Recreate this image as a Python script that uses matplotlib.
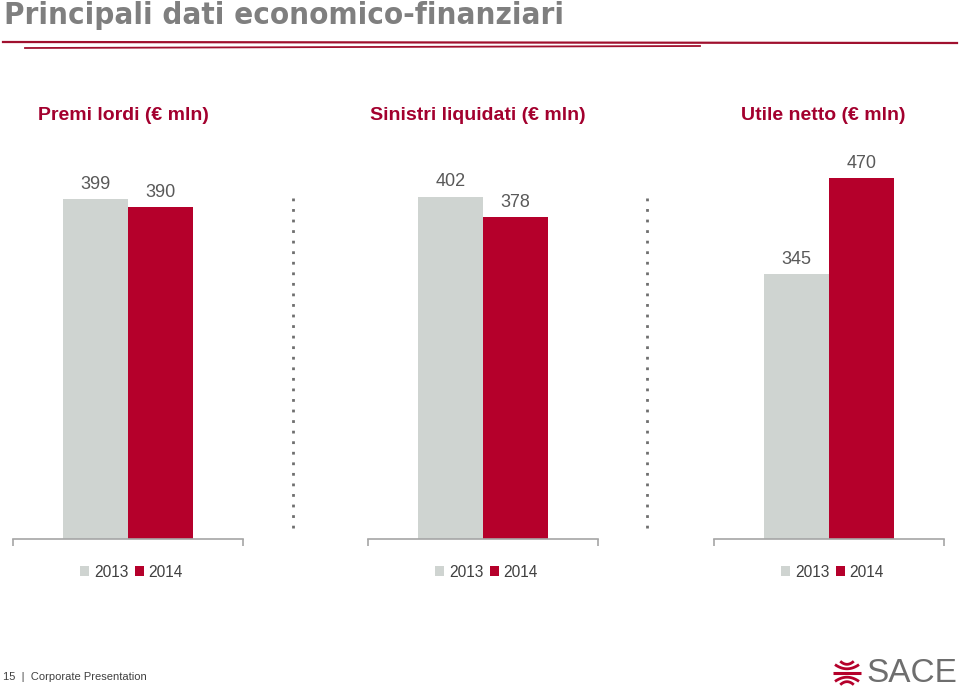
import numpy as np
import matplotlib.pyplot as plt
from matplotlib.lines import Line2D

plt.rcParams['font.family'] = ['Liberation Sans', 'DejaVu Sans']

YEARS = ["2013", "2014"]
PANEL_TITLES = ["Premi lordi (€ mln)", "Sinistri liquidati (€ mln)", "Utile netto (€ mln)"]
PREMI = [399, 390]
SINISTRI = [402, 378]
UTILE = [345, 470]
YMAX = [456.6, 456.6, 506.5]

GREY = '#CFD4D1'
RED = '#B5002B'
TITLE_RED = '#A3002E'
TEXT = '#595959'

W, H = 960, 691
fig = plt.figure(figsize=(9.6, 6.91), dpi=100)


def fx(px):
    return px / W


def fy(py):
    return 1 - py / H


# header
fig.text(fx(4), fy(16), "Principali dati economico-finanziari", fontsize=22.4,
         family='DejaVu Sans', fontstretch='condensed', fontweight='bold',
         color='#7F7F7F', va='center', ha='left')
fig.add_artist(Line2D([fx(3), fx(957)], [fy(42), fy(43)], color='#A0102E', lw=1.6))
fig.add_artist(Line2D([fx(25), fx(700)], [fy(48), fy(46)], color='#A0102E', lw=1.3))

lefts = [13, 368, 714]
title_x = [123, 478, 823]
series = [PREMI, SINISTRI, UTILE]

for i, (vals, title) in enumerate(zip(series, PANEL_TITLES)):
    ax = fig.add_axes([fx(lefts[i]), fy(539), 230 / W, (539 - 150) / H])
    bars = ax.bar([0, 1], vals, width=1.0, color=[GREY, RED])
    bars[0].set_label(YEARS[0])
    bars[1].set_label(YEARS[1])
    for b, v in zip(bars, vals):
        ax.annotate(str(v), (b.get_x() + b.get_width() / 2, v), xytext=(0, 10.5),
                    textcoords='offset points', ha='center', va='center',
                    fontsize=13, color=TEXT)
    ax.set_xlim(-1.269, 2.269)
    ax.set_ylim(0, YMAX[i])
    for s in ['top', 'right', 'left']:
        ax.spines[s].set_visible(False)
    ax.spines['bottom'].set_color('#A6A6A6')
    ax.spines['bottom'].set_linewidth(1.2)
    ax.set_yticks([])
    ax.set_xticks([-1.269, 2.269])
    ax.set_xticklabels([])
    ax.tick_params(axis='x', direction='out', length=5, color='#A6A6A6', width=1.2)
    ax.legend(loc='center', bbox_to_anchor=(0.515, -0.085), ncol=2, frameon=False,
              handlelength=0.6, handleheight=0.6, handletextpad=0.3,
              columnspacing=0.4, fontsize=11.2, labelcolor='#404040')
    fig.text(fx(title_x[i]), fy(116), title, fontsize=14, fontweight='bold',
             color=TITLE_RED, ha='center', va='center')

# dotted separators
for x in [293, 647]:
    fig.add_artist(Line2D([fx(x), fx(x)], [fy(198), fy(533)], color='#6F6F6F',
                          lw=2.0, linestyle=(0, (1, 2.8)), solid_capstyle='butt',
                          dash_capstyle='butt'))

# footer
fig.text(fx(3), fy(677), "15  |  Corporate Presentation", fontsize=8,
         color='#404040', va='center', ha='left')
fig.text(fx(866), fy(673), "SACE", fontsize=24, color='#6E6E6E', va='center', ha='left')

# logo mark
lax = fig.add_axes([fx(832), fy(687), 30 / W, 28 / H])
lax.set_xlim(-1, 1)
lax.set_ylim(-1, 1)
lax.axis('off')
u = np.linspace(-1, 1, 50)
for y0, a, hw in [(0.62, 0.22, 0.45), (0.3, 0.3, 0.8)]:
    xs = u * hw
    lax.plot(xs, y0 + a * u ** 2, color=RED, lw=2.0, solid_capstyle='butt')
    lax.plot(xs, -(y0 + a * u ** 2), color=RED, lw=2.0, solid_capstyle='butt')
lax.plot([-0.95, 0.95], [0, 0], color=RED, lw=2.2, solid_capstyle='butt')

fig.savefig('out.png', dpi=100)
